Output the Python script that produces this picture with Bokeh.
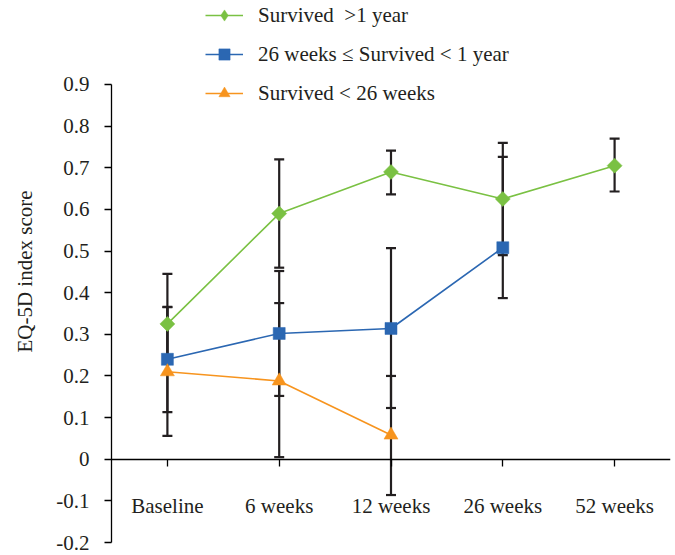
from bokeh.plotting import figure
from bokeh.models import (ColumnDataSource, Whisker, TeeHead, Range1d, FixedTicker,
                          Legend, LegendItem)
from bokeh.embed import file_html
from bokeh.resources import INLINE
import math

# ---------------- data ----------------
categories = ["Baseline", "6 weeks", "12 weeks", "26 weeks", "52 weeks"]

long_label = "Survived\u00a0 >1 year"
long_mean = [0.325, 0.590, 0.690, 0.625, 0.705]
long_lower = [0.205, 0.460, 0.636, 0.490, 0.643]
long_upper = [0.445, 0.720, 0.741, 0.760, 0.770]

mid_label = "26 weeks \u2264 Survived < 1 year"
mid_mean = [0.240, 0.302, 0.314, 0.508]
mid_lower = [0.113, 0.152, 0.123, 0.387]
mid_upper = [0.366, 0.452, 0.507, 0.726]

short_label = "Survived < 26 weeks"
short_mean = [0.210, 0.188, 0.058]
short_lower = [0.056, 0.005, -0.086]
short_upper = [0.365, 0.375, 0.200]

y_ticks = [-0.2, -0.1, 0, 0.1, 0.2, 0.3, 0.4, 0.5, 0.6, 0.7, 0.8, 0.9]
y_tick_labels = ["-0.2", "-0.1", "0", "0.1", "0.2", "0.3", "0.4", "0.5",
                 "0.6", "0.7", "0.8", "0.9"]
y_label = "EQ-5D index score"

# ---------------- style ----------------
FONT = "Liberation Serif"
FS = "21px"
TXT = "#231f20"
GREEN = "#7ac143"
BLUE = "#2b67b2"
ORANGE = "#f7941e"

p = figure(width=673, height=554, output_backend="svg", toolbar_location=None,
           x_range=Range1d(-0.5, 4.5), y_range=Range1d(-0.2, 1.1017),
           min_border_left=111, min_border_right=3, min_border_top=0,
           min_border_bottom=12)
p.outline_line_color = None
p.grid.visible = False
p.background_fill_color = "white"

# axes
xa = p.xaxis[0]
xa.fixed_location = 0
xa.ticker = FixedTicker(ticks=list(range(len(categories))))
xa.major_label_overrides = {i: c for i, c in enumerate(categories)}
xa.major_tick_out = 7
xa.major_tick_in = 0
xa.minor_tick_out = 0
xa.minor_tick_in = 0
xa.major_label_standoff = 28
xa.axis_line_color = "black"
xa.axis_line_width = 1.3
xa.major_tick_line_color = "black"
xa.major_tick_line_width = 1.3

ya = p.yaxis[0]
ya.ticker = FixedTicker(ticks=y_ticks)
ya.major_label_overrides = {t: l for t, l in zip(y_ticks, y_tick_labels)}
ya.bounds = (min(y_ticks), max(y_ticks))
ya.major_tick_out = 7
ya.major_tick_in = 0
ya.minor_tick_out = 0
ya.minor_tick_in = 0
ya.major_label_standoff = 15
ya.axis_line_color = "black"
ya.axis_line_width = 1.3
ya.major_tick_line_color = "black"
ya.major_tick_line_width = 1.3
ya.axis_label = y_label
ya.axis_label_standoff = 16

for ax in (xa, ya):
    ax.major_label_text_font = FONT
    ax.major_label_text_font_size = FS
    ax.major_label_text_color = TXT
    ax.axis_label_text_font = FONT
    ax.axis_label_text_font_size = FS
    ax.axis_label_text_font_style = "normal"
    ax.axis_label_text_color = TXT

series = [
    (long_label, long_mean, long_lower, long_upper, GREEN, "square", 10.6, math.pi / 4, "diamond"),
    (mid_label, mid_mean, mid_lower, mid_upper, BLUE, "square", 12, 0, None),
    (short_label, short_mean, short_lower, short_upper, ORANGE, "triangle", 14, 0, None),
]

items = []
for label, mean, lower, upper, color, marker, size, angle, legend_marker in series:
    xs = list(range(len(mean)))
    src = ColumnDataSource(dict(x=xs, y=mean, lower=lower, upper=upper))
    w = Whisker(source=src, base="x", lower="lower", upper="upper",
                line_color=TXT, line_width=2.2, level="underlay",
                upper_head=TeeHead(size=10, line_color=TXT, line_width=2.2),
                lower_head=TeeHead(size=10, line_color=TXT, line_width=2.2))
    p.add_layout(w)
    ln = p.line("x", "y", source=src, line_color=color, line_width=1.6)
    sc = p.scatter("x", "y", source=src, marker=marker, size=size, angle=angle,
                   fill_color=color, line_color=color, line_width=0.5)
    if legend_marker is not None:
        # legend swatch only (legend glyphs ignore marker rotation)
        proxy = p.scatter(x=[float("nan")], y=[float("nan")], marker=legend_marker,
                          fill_color=color, line_color=color, line_width=0.5)
        items.append(LegendItem(label=label, renderers=[ln, proxy]))
    else:
        items.append(LegendItem(label=label, renderers=[ln, sc]))

legend = Legend(items=items, location=(94, 435), orientation="vertical",
                glyph_width=38, glyph_height=28, label_standoff=15, spacing=11,
                padding=0, margin=0, border_line_color=None,
                background_fill_alpha=0,
                label_text_font=FONT, label_text_font_size=FS,
                label_text_color=TXT)
p.add_layout(legend, "center")

open("out.html", "w").write(file_html(p, INLINE))
